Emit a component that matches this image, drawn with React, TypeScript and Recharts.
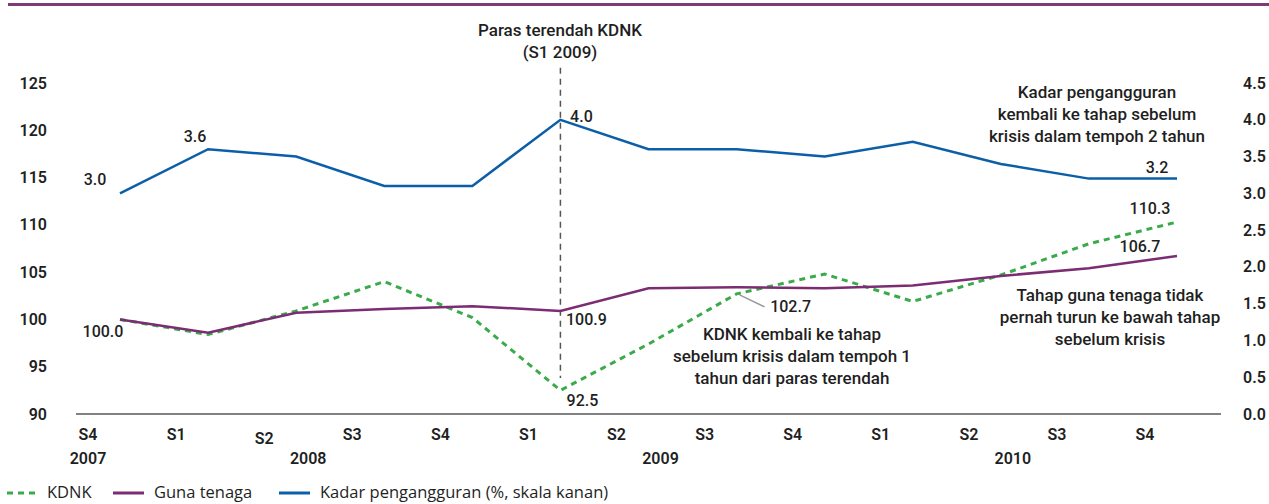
import { LineChart, Line, XAxis, YAxis, ReferenceLine, LabelList } from 'recharts'

const quarters = ['S4', 'S1', 'S2', 'S3', 'S4', 'S1', 'S2', 'S3', 'S4', 'S1', 'S2', 'S3', 'S4']
const years = ['2007', '2008', '2008', '2008', '2008', '2009', '2009', '2009', '2009', '2010', '2010', '2010', '2010']
// year caption shown under these category indexes
const yearTickAt = [0, 2, 6, 10]

const kdnk = [100.0, 98.4, 100.9, 104.0, 100.2, 92.5, 97.4, 102.7, 104.8, 101.9, 104.7, 108.0, 110.3]
const gunaTenaga = [100.0, 98.6, 100.7, 101.1, 101.4, 100.9, 103.3, 103.4, 103.3, 103.6, 104.6, 105.4, 106.7]
const kadar = [3.0, 3.6, 3.5, 3.1, 3.1, 4.0, 3.6, 3.6, 3.5, 3.7, 3.4, 3.2, 3.2]

const leftTicks = [90, 95, 100, 105, 110, 115, 120, 125]
const rightTicks = [0, 0.5, 1, 1.5, 2, 2.5, 3, 3.5, 4, 4.5]

const data = quarters.map((q, i) => ({
  cat: `${q} ${years[i]}`,
  kdnk: kdnk[i],
  guna: gunaTenaga[i],
  kadar: kadar[i],
}))

const FONT = 'Roboto, "Noto Sans", sans-serif'
const INK = '#1f1f1f'
const GREEN = '#3aab4a'
const PURPLE = '#7b2c72'
const BLUE = '#0b5ea8'

// label offsets (dx, dy) from the point, keyed by index
const kadarLabels: Record<number, [number, number]> = { 0: [-25, -14], 1: [-13, -13], 5: [21, -3], 12: [-20, -11] }
const gunaLabels: Record<number, [number, number]> = { 0: [-17, 12], 5: [26, 9], 12: [-37, -10] }
const kdnkLabels: Record<number, [number, number]> = { 5: [22, 10], 12: [-27, -14] }

const makeLabel = (offsets: Record<number, [number, number]>) => (props: any) => {
  const { x, y, index, value } = props
  const off = offsets[index]
  if (!off) return null
  return (
    <text x={x + off[0]} y={y + off[1]} textAnchor="middle" dominantBaseline="central"
      fontFamily={FONT} fontSize={16} fontWeight={500} fill={INK}>
      {Number(value).toFixed(1)}
    </text>
  )
}

const kdnkLabel = (props: any) => {
  const { x, y, index, value } = props
  if (index === 7) {
    return (
      <g>
        <line x1={x + 3} y1={y + 1} x2={x + 28} y2={y + 13} stroke="#9a9a9a" strokeWidth={1.5} />
        <text x={x + 54} y={y + 13} textAnchor="middle" dominantBaseline="central"
          fontFamily={FONT} fontSize={16} fontWeight={500} fill={INK}>
          {Number(value).toFixed(1)}
        </text>
      </g>
    )
  }
  return makeLabel(kdnkLabels)(props)
}

const XTick = (props: any) => {
  const { x, y, payload, index } = props
  const i = index ?? payload.index
  return (
    <g>
      <text x={x - 32} y={y + (i === 2 ? 24 : 20)} textAnchor="middle" dominantBaseline="central"
        fontFamily={FONT} fontSize={16} fontWeight={600} fill={INK}>
        {quarters[i]}
      </text>
      {yearTickAt.includes(i) && (
        <text x={i === 0 ? x - 32 : x + 12} y={y + 44} textAnchor="middle" dominantBaseline="central"
          fontFamily={FONT} fontSize={16} fontWeight={600} fill={INK}>
          {years[i]}
        </text>
      )}
    </g>
  )
}

const LeftTick = (props: any) => (
  <text x={47} y={props.y} textAnchor="end" dominantBaseline="central"
    fontFamily={FONT} fontSize={16} fontWeight={600} fill={INK}>
    {props.payload.value}
  </text>
)

const RightTick = (props: any) => (
  <text x={1243} y={props.y} textAnchor="start" dominantBaseline="central"
    fontFamily={FONT} fontSize={16} fontWeight={600} fill={INK}>
    {Number(props.payload.value).toFixed(1)}
  </text>
)

const noteStyle = (left: number, top: number, width: number): React.CSSProperties => ({
  position: 'absolute',
  left: left - width / 2,
  top,
  width,
  textAlign: 'center',
  fontFamily: FONT,
  fontSize: 17,
  fontWeight: 500,
  lineHeight: '22px',
  color: INK,
  whiteSpace: 'nowrap',
})

const legendText: React.CSSProperties = {
  position: 'absolute',
  top: 482,
  fontFamily: '"Open Sans", sans-serif',
  fontSize: 16.5,
  lineHeight: '20px',
  color: INK,
  whiteSpace: 'nowrap',
}

export default function App() {
  return (
    <div style={{ position: 'absolute', left: 0, top: 0, width: 1269, height: 504, background: '#fff', overflow: 'hidden' }}>
      <div style={{ position: 'absolute', left: 8, right: 0, top: 3, height: 3, background: '#7d3a74' }} />

      <LineChart width={1269} height={504} data={data} margin={{ top: 83, right: 0, bottom: 30, left: 0 }}>
        <XAxis dataKey="cat" height={60} padding={{ left: 44, right: 44 }} tickLine={false} tickSize={0}
          tickMargin={0} interval={0} tick={<XTick />} axisLine={{ stroke: '#595959', strokeWidth: 1.5 }} />
        <YAxis yAxisId="left" width={76} domain={[90, 125]} ticks={leftTicks} axisLine={false}
          tickLine={false} tick={<LeftTick />} />
        <YAxis yAxisId="right" orientation="right" width={48} domain={[0, 4.5]} ticks={rightTicks}
          axisLine={false} tickLine={false} tick={<RightTick />} />

        <ReferenceLine yAxisId="left" ifOverflow="visible" stroke="#555" strokeWidth={1.5} strokeDasharray="6 5"
          segment={[{ x: 'S1 2009', y: 126.6 }, { x: 'S1 2009', y: 93.8 }]} />

        <Line yAxisId="left" dataKey="kdnk" type="linear" stroke={GREEN} strokeWidth={3} strokeDasharray="6 5"
          dot={false} isAnimationActive={false}>
          <LabelList dataKey="kdnk" content={kdnkLabel} />
        </Line>
        <Line yAxisId="left" dataKey="guna" type="linear" stroke={PURPLE} strokeWidth={2.5}
          dot={false} isAnimationActive={false}>
          <LabelList dataKey="guna" content={makeLabel(gunaLabels)} />
        </Line>
        <Line yAxisId="right" dataKey="kadar" type="linear" stroke={BLUE} strokeWidth={2.5}
          dot={false} isAnimationActive={false}>
          <LabelList dataKey="kadar" content={makeLabel(kadarLabels)} />
        </Line>
      </LineChart>

      <div style={noteStyle(560, 19, 260)}>Paras terendah KDNK<br />(S1 2009)</div>
      <div style={noteStyle(1097, 81, 300)}>Kadar pengangguran<br />kembali ke tahap sebelum<br />krisis dalam tempoh 2 tahun</div>
      <div style={noteStyle(1110, 284, 320)}>Tahap guna tenaga tidak<br />pernah turun ke bawah tahap<br />sebelum krisis</div>
      <div style={noteStyle(792, 323, 300)}>KDNK kembali ke tahap<br />sebelum krisis dalam tempoh 1<br />tahun dari paras terendah</div>

      <svg style={{ position: 'absolute', left: 0, top: 483 }} width={320} height={20}>
        <line x1={7} y1={10} x2={36} y2={10} stroke={GREEN} strokeWidth={3} strokeDasharray="6 5" />
        <line x1={113} y1={10} x2={144} y2={10} stroke={PURPLE} strokeWidth={3} />
        <line x1={279} y1={10} x2={310} y2={10} stroke={BLUE} strokeWidth={3} />
      </svg>
      <div style={{ ...legendText, left: 47 }}>KDNK</div>
      <div style={{ ...legendText, left: 154 }}>Guna tenaga</div>
      <div style={{ ...legendText, left: 320 }}>Kadar pengangguran (%, skala kanan)</div>
    </div>
  )
}
